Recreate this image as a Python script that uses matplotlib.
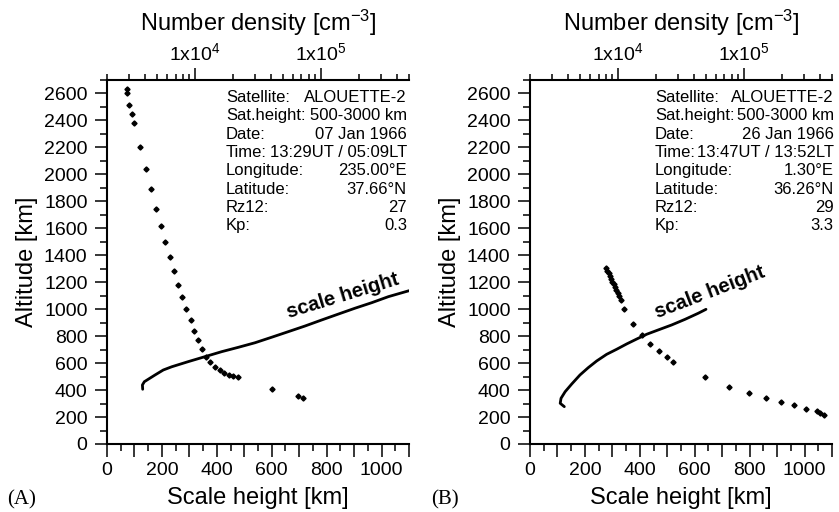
import math
import matplotlib
matplotlib.use("Agg")
import matplotlib.pyplot as plt
from matplotlib.ticker import MultipleLocator, FuncFormatter, LogLocator, NullFormatter, FixedLocator

plt.rcParams['font.family'] = 'Liberation Sans'
plt.rcParams['mathtext.fontset'] = 'custom'
plt.rcParams['mathtext.rm'] = 'Liberation Sans'
plt.rcParams['mathtext.it'] = 'Liberation Sans'

# (A) 07 Jan 1966 - electron density profile [cm^-3] vs altitude [km]
dens_a = [2868, 2868, 2991, 3142, 3296, 3657, 4059, 4472, 4874, 5341, 5809, 6330,
          6848, 7367, 7929, 8530, 9245, 9820, 10560, 11300, 12160, 13160, 14420,
          15800, 17090, 18630, 20150, 21840, 40670, 66150, 72490]
alt_dens_a = [2636, 2604, 2515, 2448, 2379, 2201, 2040, 1889, 1746, 1617, 1496, 1385,
              1281, 1182, 1091, 1004, 918, 840, 774, 707, 648, 606, 573,
              549, 529, 514, 504, 495, 406, 358, 343]
# (A) scale height [km] vs altitude [km]
sh_a = [130, 129, 136, 150, 175, 205, 236, 296, 357, 418, 478, 539, 600, 660, 721,
        782, 843, 903, 964, 1025, 1100]
alt_sh_a = [406, 438, 462, 480, 512, 549, 573, 611, 648, 685, 717, 751, 792, 833, 875,
            920, 964, 1007, 1048, 1093, 1137]

# (B) 26 Jan 1966
dens_b = [8030, 8228, 8435, 8590, 8796, 9009, 9242, 9466, 9694, 9945, 10240, 10560,
          11160, 13230, 15590, 18050, 21050, 24360, 27490, 49100, 76160, 110400,
          149000, 196100, 248700, 311400, 378700, 402300, 432900]
alt_dens_b = [1308, 1286, 1266, 1246, 1226, 1204, 1185, 1165, 1142, 1120, 1098, 1068,
              1001, 890, 806, 740, 690, 648, 606, 495, 423, 376,
              339, 312, 287, 262, 243, 230, 215]
sh_b = [125, 110, 113, 128, 152, 182, 212, 243, 279, 316, 352, 389, 425, 467, 516,
        565, 613, 641]
alt_sh_b = [277, 302, 339, 388, 445, 512, 566, 616, 665, 703, 742, 779, 814, 846, 883,
            925, 970, 999]

info_keys = ["Satellite:", "Sat.height:", "Date:", "Time:", "Longitude:", "Latitude:",
             "Rz12:", "Kp:"]
info_a = ["ALOUETTE-2", "500-3000 km", "07 Jan 1966", "13:29UT / 05:09LT", "235.00°E",
          "37.66°N", "27", "0.3"]
info_b = ["ALOUETTE-2", "500-3000 km", "26 Jan 1966", "13:47UT / 13:52LT", "1.30°E",
          "36.26°N", "29", "3.3"]

panels = [
    dict(left=107, dens=dens_a, alt_d=alt_dens_a, sh=sh_a, alt_s=alt_sh_a, info=info_a,
         tag="(A)", lbl_xy=(860, 1100), lbl_rot=17, ix0=0.394, ix1=0.993),
    dict(left=530, dens=dens_b, alt_d=alt_dens_b, sh=sh_b, alt_s=alt_sh_b, info=info_b,
         tag="(B)", lbl_xy=(656, 1125), lbl_rot=21, ix0=0.414, ix1=1.006),
]

W, H = 839, 512
fig = plt.figure(figsize=(W / 100, H / 100), dpi=100)

for p in panels:
    ax = fig.add_axes([p["left"] / W, 1 - 444 / H, 302 / W, 364 / H])
    top = ax.twiny()

    ax.plot(p["sh"], p["alt_s"], color="black", lw=2.0, solid_capstyle="round")
    top.plot(p["dens"], p["alt_d"], linestyle="none", marker="D", ms=2.6,
             color="black", mec="black")

    ax.set_xlim(0, 1100)
    ax.set_ylim(0, 2700)
    top.set_xscale("log")
    top.set_xlim(2e3, 5e5)
    top.set_ylim(0, 2700)

    for s in ["right", "top"]:
        ax.spines[s].set_visible(False)
    for s in ["right", "left", "bottom"]:
        top.spines[s].set_visible(False)
    ax.spines["left"].set_linewidth(1.5)
    ax.spines["bottom"].set_linewidth(1.5)
    top.spines["top"].set_linewidth(1.5)

    ax.xaxis.set_major_locator(MultipleLocator(100))
    ax.xaxis.set_minor_locator(MultipleLocator(50))
    ax.xaxis.set_major_formatter(FuncFormatter(
        lambda v, pos: "%d" % v if int(round(v)) % 200 == 0 else ""))
    ax.yaxis.set_major_locator(MultipleLocator(200))
    ax.yaxis.set_minor_locator(MultipleLocator(100))
    ax.tick_params(axis="both", which="major", direction="out", length=9, width=1.1,
                   labelsize=14)
    ax.tick_params(axis="both", which="minor", direction="out", length=5, width=1.1)
    ax.tick_params(axis="y", pad=5)
    ax.tick_params(axis="x", pad=4)

    top.xaxis.set_major_locator(FixedLocator([1e4, 1e5]))
    top.xaxis.set_major_formatter(FuncFormatter(
        lambda v, pos: r"1x10$^{%d}$" % round(math.log10(v))))
    top.xaxis.set_minor_locator(LogLocator(base=10, subs=range(2, 10), numticks=20))
    top.xaxis.set_minor_formatter(NullFormatter())
    top.tick_params(axis="x", which="major", direction="out", length=9, width=1.1,
                    labelsize=14, pad=2.5)
    top.tick_params(axis="x", which="minor", direction="out", length=4, width=1.1)
    top.tick_params(axis="y", left=False, right=False, labelleft=False, labelright=False)

    ax.set_xlabel("Scale height [km]", fontsize=17, labelpad=6)
    ax.set_ylabel("Altitude [km]", fontsize=17, labelpad=4)
    top.set_xlabel("Number density [cm$^{-3}$]", fontsize=17, labelpad=8)

    top.text(p["lbl_xy"][0], p["lbl_xy"][1], "scale height", transform=ax.transData,
             rotation=p["lbl_rot"], rotation_mode="anchor", ha="center", va="center",
             fontsize=14.5, fontweight="bold")

    y0 = 0.952
    for i, (k, v) in enumerate(zip(info_keys, p["info"])):
        yy = y0 - i * 0.0503
        top.text(p["ix0"], yy, k, transform=ax.transAxes, fontsize=12,
                 ha="left", va="center")
        top.text(p["ix1"], yy, v, transform=ax.transAxes, fontsize=12,
                 ha="right", va="center")

    fig.text((p["left"] - 85) / W, 1 - 500 / H, p["tag"], fontsize=15,
             family="Liberation Serif", ha="center", va="center")

fig.savefig("out.png", dpi=100, facecolor="white")
